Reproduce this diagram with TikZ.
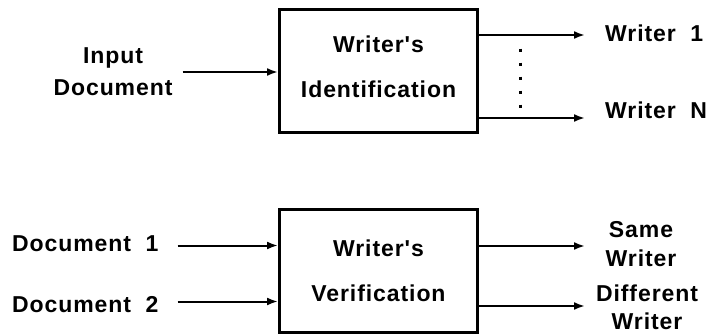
\documentclass[tikz,border=0pt]{standalone}
\usepackage{fontspec}
\setmainfont{Liberation Sans}[LetterSpace=4,Ligatures={TeXOff,NoCommon}]
\usetikzlibrary{arrows.meta,positioning,calc}
\tikzset{
  blk/.style={draw,line width=3pt,minimum width=198pt,minimum height=123pt,
    inner sep=0pt,align=center,font=\bfseries\fontsize{23}{45}\selectfont},
  lbl/.style={inner sep=0pt,align=center,font=\bfseries\fontsize{23}{32}\selectfont},
  lblr/.style={lbl,font=\bfseries\fontsize{23}{28.5}\selectfont},
  flow/.style={-{Latex[length=11pt,width=8pt]},line width=2pt},
  vdots/.style={line width=3pt,dash pattern=on 3pt off 11pt},
}
\begin{document}
\begin{tikzpicture}[x=1pt,y=-1pt]
  \useasboundingbox (0,0) rectangle (707,335);
  % --- identification ---
  \node[blk,text depth=9pt] (ident) at (378.5,71) {Writer's\\Identification};
  \node[lbl] (inp) at (113,72) {Input\\Document};
  \draw[flow] ($(inp.east)+(10,0)$) -- (ident.west |- inp.east);
  \coordinate (o1) at (585,35);
  \coordinate (oN) at (585,118);
  \node[lbl,anchor=west] (w1) at (605,33) {Writer\ \ 1};
  \node[lbl,anchor=west] (wN) at (605,110) {Writer\ \ N};
  \draw[flow] (ident.east |- o1) -- (o1);
  \draw[flow] (ident.east |- oN) -- (oN);
  \coordinate (dtop) at (520,48.5);
  \coordinate (dbot) at (520,107.5);
  \draw[vdots] (dtop) -- (dbot);
  % --- verification ---
  \node[blk] (verif) at (378.5,271) {Writer's\\Verification};
  \node[lbl,anchor=west] (d1) at (12,243.5) {Document\ \ 1};
  \node[lbl,anchor=west] (d2) at (12,305) {Document\ \ 2};
  \coordinate (i1) at (verif.west |- 0,245.5);
  \coordinate (i2) at (verif.west |- 0,301.5);
  \draw[flow] ($(d1.east |- i1)+(19,0)$) -- (i1);
  \draw[flow] ($(d2.east |- i2)+(19,0)$) -- (i2);
  \coordinate (s1) at (585,246);
  \coordinate (s2) at (585,306);
  \node[lblr] (same) at (641,244) {Same\\Writer};
  \node[lblr] (diff) at (647,307.5) {Different\\Writer};
  \draw[flow] (verif.east |- s1) -- (s1);
  \draw[flow] (verif.east |- s2) -- (s2);
\end{tikzpicture}
\end{document}
